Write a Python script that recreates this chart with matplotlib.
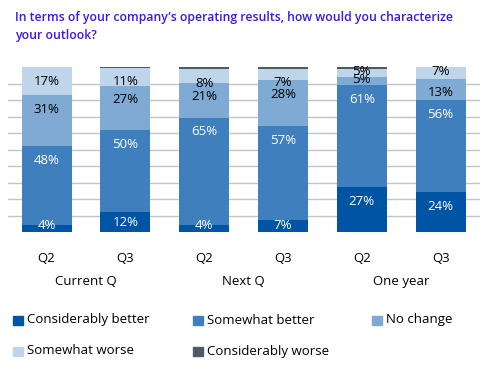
import matplotlib
matplotlib.use("Agg")
import numpy as np
import matplotlib.pyplot as plt
from matplotlib.patches import Rectangle

plt.rcParams['font.family'] = ['Open Sans', 'DejaVu Sans']

# data (percent of respondents)
groups = ["Current Q", "Next Q", "One year"]
quarters = ["Q2", "Q3", "Q2", "Q3", "Q2", "Q3"]
series = ["Considerably better", "Somewhat better", "No change",
          "Somewhat worse", "Considerably worse"]
considerably_better = [4, 12, 4, 7, 27, 24]
somewhat_better = [48, 50, 65, 57, 61, 56]
no_change = [31, 27, 21, 28, 5, 13]
somewhat_worse = [17, 11, 8, 7, 5, 7]
considerably_worse = [0, 0.5, 1.5, 1, 1, 0]

colors = ["#0054A4", "#3F7FBE", "#7FAAD3", "#BED5EA", "#4E5A66"]
text_colors = ["white", "white", "black", "black", "black"]

values = np.array([considerably_better, somewhat_better, no_change,
                   somewhat_worse, considerably_worse], dtype=float)
# bars in the source are all drawn to full height
scaled = values / values.sum(axis=0) * 100

fig = plt.figure(figsize=(4.99, 3.75), dpi=100)
ax = fig.add_axes([8/499, 1-232/375, 472/499, 165/375])

x = np.arange(len(quarters))
bottom = np.zeros(len(quarters))
for i, name in enumerate(series):
    ax.bar(x, scaled[i], width=0.635, bottom=bottom, color=colors[i],
           label=name, zorder=2, linewidth=0)
    bottom += scaled[i]

# percentage labels, placed a little below each segment's top
label_shift = {(4, 2): 1.5, (4, 3): 1.5, (5, 3): 2.5}
tops = np.cumsum(scaled, axis=0)
for i in range(4):
    for j in range(len(quarters)):
        top = tops[i, j]
        y = top - label_shift.get((j, i), 8.5)
        if i == 0:
            y = max(y, scaled[i, j] / 2, 3.8)
        ax.text(x[j], y, f"{values[i, j]:.0f}%", ha="center", va="center",
                color=text_colors[i], fontsize=9.5, zorder=3)

ax.set_xlim(-0.49, 5.5)
ax.set_ylim(0, 100)
ax.set_yticks(range(10, 100, 10))
ax.yaxis.grid(True, color="#C4C4C4", linewidth=1)
ax.set_axisbelow(True)
ax.tick_params(left=False, bottom=False, labelleft=False)
ax.set_xticks(x)
ax.set_xticklabels(quarters, fontsize=9.5)
ax.tick_params(axis="x", pad=11)
for s in ax.spines.values():
    s.set_visible(False)

for g, name in enumerate(groups):
    ax.text(2*g + 0.5, -0.297, name, transform=ax.get_xaxis_transform(),
            ha="center", va="center", fontsize=9.5)

title_kw = dict(color="#3D17E8", fontsize=8.8, fontweight="semibold", va="center")
fig.text(15/499, 1-17/375, "In terms of your company\u2019s operating results, how would you characterize",
         **title_kw)
fig.text(15/499, 1-36/375, "your outlook?", **title_kw)

# legend laid out in rows like the source
leg_pos = [(13, 320), (193, 320), (372, 320), (13, 351), (193, 351)]
for (px, py), name, c in zip(leg_pos, series, colors):
    fig.patches.append(Rectangle((px/499, 1-(py+5)/375), 9.5/499, 9.5/375,
                                 transform=fig.transFigure, color=c))
    fig.text((px+14)/499, 1-py/375, name, fontsize=9.5, va="center")

fig.savefig("out.png", dpi=100)
